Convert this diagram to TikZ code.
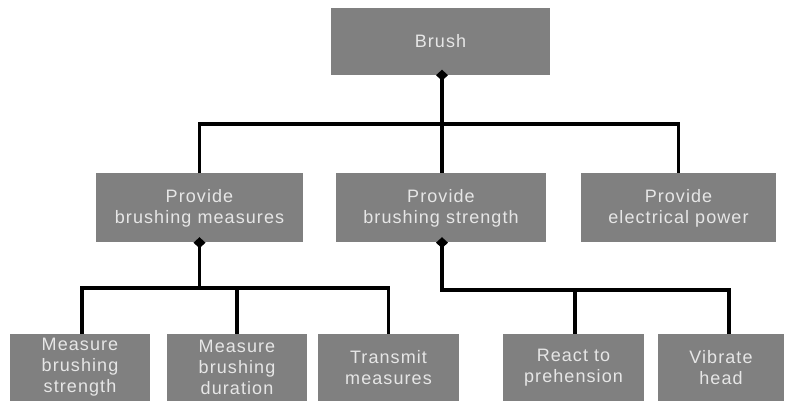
\documentclass[tikz,border=0pt]{standalone}
\usepackage{fontspec}
\setmainfont{Liberation Sans}[LetterSpace=6]
\usetikzlibrary{arrows.meta}
\definecolor{boxgray}{HTML}{808080}
\definecolor{txtgray}{HTML}{E6E6E6}
\tikzset{
  fbox/.style={fill=boxgray, text=txtgray, align=center, inner sep=0pt,
    font=\fontsize{18}{21}\selectfont},
  conn/.style={line width=3.5pt, black},
  dstart/.style={conn, {Diamond[length=11pt,width=12pt]}-, shorten <=-5.5pt},
}
\begin{document}
\begin{tikzpicture}[x=1pt,y=-1pt]
\useasboundingbox (0,0) rectangle (787,403);
% nodes
\node[fbox, minimum width=219pt, minimum height=67pt] (brush) at (440.5,41.5) {Brush};
\node[fbox, minimum width=207pt, minimum height=69pt] (a) at (199.5,208) {Provide\\brushing measures};
\node[fbox, minimum width=210pt, minimum height=69pt] (b) at (441,208) {Provide\\brushing strength};
\node[fbox, minimum width=195pt, minimum height=69pt] (c) at (678.5,208) {Provide\\electrical power};
\node[fbox, minimum width=140pt, minimum height=67pt] (l1) at (80,367.5) {Measure\\brushing\\strength};
\node[fbox, minimum width=140pt, minimum height=67pt] (l2) at (237,367.5) {Measure\\brushing\\duration};
\node[fbox, minimum width=141pt, minimum height=67pt] (l3) at (388.5,367.5) {Transmit\\measures};
\node[fbox, minimum width=141pt, minimum height=67pt] (l4) at (573.5,367.5) {React to\\prehension};
\node[fbox, minimum width=126pt, minimum height=67pt] (l5) at (721,367.5) {Vibrate\\head};
% bus coordinates
\coordinate (t) at (442,124);
\coordinate (ta) at (200,288);
\coordinate (tb) at (442,290);
\coordinate (l5n) at (729,334);
% top level
\draw[dstart] ([xshift=1.5pt]brush.south) -- ([xshift=1.5pt]brush.south |- b.north);
\draw[conn] (a.north) -- (a.north |- t) -- (c.north |- t) -- (c.north);
% left branch
\draw[dstart] (a.south) -- (a.south |- ta);
\draw[conn] ([xshift=2pt]l1.north) -- ([xshift=2pt]l1.north |- ta) -- (l3.north |- ta) -- (l3.north);
\draw[conn] (l2.north) -- (l2.north |- ta);
% right branch
\draw[dstart] ([xshift=1pt]b.south) -- ([xshift=1pt]b.south |- tb) -- (l5n |- tb) -- (l5n);
\draw[conn] ([xshift=1.5pt]l4.north) -- ([xshift=1.5pt]l4.north |- tb);
\end{tikzpicture}
\end{document}
